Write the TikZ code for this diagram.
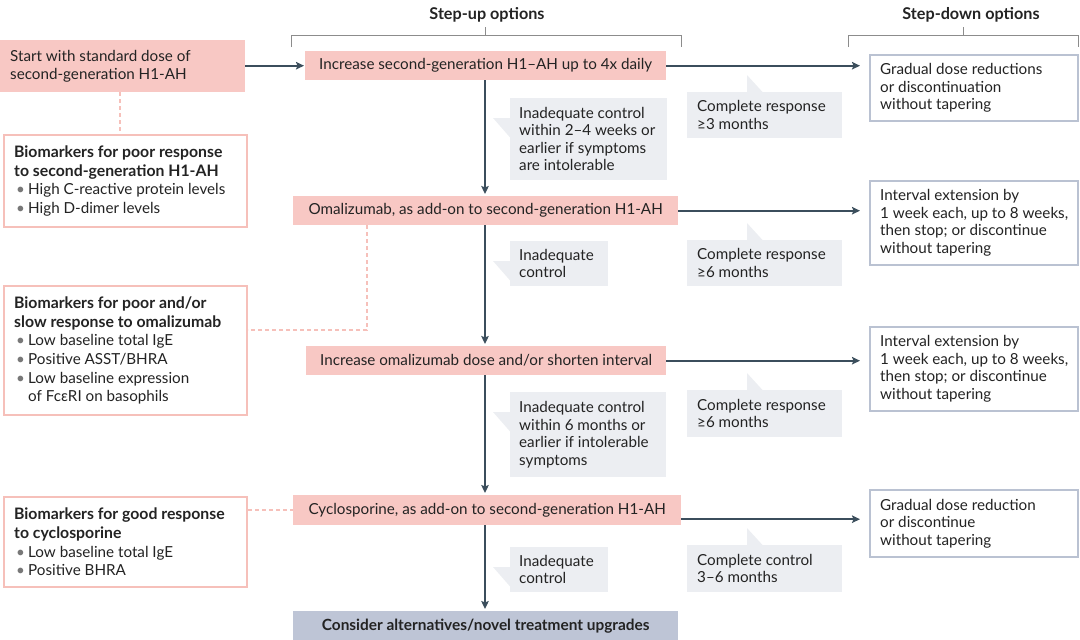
\documentclass[tikz,border=0pt]{standalone}
\usepackage{fontspec}
\setmainfont{Lato}
\usetikzlibrary{calc,arrows.meta}
\definecolor{pinkfill}{RGB}{248,200,196}
\definecolor{pinkline}{RGB}{246,192,186}
\definecolor{arrowcol}{RGB}{59,78,92}
\definecolor{callfill}{RGB}{236,238,242}
\definecolor{sdline}{RGB}{186,194,210}
\definecolor{consfill}{RGB}{190,197,214}
\definecolor{txt}{RGB}{35,35,35}
\definecolor{brack}{RGB}{140,140,140}
\definecolor{bulgray}{RGB}{120,120,120}
\newcommand{\bul}[1]{\hspace*{2pt}\makebox[12pt][l]{\textcolor{bulgray}{\textbullet}}#1}
\newcommand{\bh}[1]{{\fontsize{15.8}{18.7}\selectfont\bfseries #1}}
\tikzset{
  base/.style={font=\fontsize{15.2}{17.5}\selectfont, text=txt, inner sep=0pt},
  pinkbox/.style={base, fill=pinkfill, align=center, anchor=north west},
  lbl/.style={base, anchor=west, align=left},
  biolbl/.style={lbl, font=\fontsize{15.2}{18.7}\selectfont},
  bg/.style={anchor=north west, inner sep=0pt},
  biobox/.style={bg, draw=pinkline, line width=2pt, fill=white},
  sdbox/.style={bg, draw=sdline, line width=2pt, fill=white},
  callout/.style={bg, fill=callfill},
  consbox/.style={pinkbox, fill=consfill, font=\fontsize{15.4}{17.5}\selectfont\bfseries},
  arr/.style={draw=arrowcol, line width=2pt, -{Stealth[length=8pt,width=7.5pt,inset=1.5pt]}},
  dashlink/.style={draw=pinkline, line width=2pt, dash pattern=on 4pt off 3pt},
  brk/.style={draw=brack, line width=1pt},
  head/.style={font=\fontsize{16.2}{18}\selectfont\bfseries, text=txt, inner sep=0pt}
}
\begin{document}
\begin{tikzpicture}[x=1pt,y=-1pt]
\useasboundingbox (0,0) rectangle (1080,640);

% headers and brackets
\node[head] (hup) at (487,15) {Step-up options};
\node[head] (hdown) at (971,15) {Step-down options};
\draw[brk] (291,47) -- (291,35) -- (681,35) -- (681,47);
\draw[brk] (485,35) -- (485,27);
\draw[brk] (848,47) -- (848,35) -- (1078,35) -- (1078,47);
\draw[brk] (963,35) -- (963,27);

% pink step-up boxes
\node[bg, fill=pinkfill, minimum width=245pt, minimum height=52pt] (start) at (0,40) {};
\node[lbl] (startt) at ($(start.west)+(10,0)$) {Start with standard dose of\\second-generation H1-AH};
\node[pinkbox, minimum width=361pt, minimum height=29pt] (b1) at (305,51) {Increase second-generation H1–AH up to 4x daily};
\node[pinkbox, minimum width=385pt, minimum height=29pt] (b2) at (293,196) {Omalizumab, as add-on to second-generation H1-AH};
\node[pinkbox, minimum width=360pt, minimum height=29pt] (b3) at (306,346) {Increase omalizumab dose and/or shorten interval};
\node[pinkbox, minimum width=388pt, minimum height=30pt] (b4) at (293,495) {Cyclosporine, as add-on to second-generation H1-AH};
\node[consbox, minimum width=385pt, minimum height=29pt] (cons) at (293,611) {Consider alternatives/novel treatment upgrades};

% biomarker boxes
\node[biobox, minimum width=243pt, minimum height=92pt] (bio1) at (3,134) {};
\node[biolbl] (bio1t) at ($(bio1.west)+(11,0)$) {\bh{Biomarkers for poor response}\\\bh{to second-generation H1-AH}\\\bul{High C-reactive protein levels}\\\bul{High D-dimer levels}};
\node[biobox, minimum width=243pt, minimum height=129pt] (bio2) at (3,285) {};
\node[biolbl] (bio2t) at ($(bio2.west)+(11,0)$) {\bh{Biomarkers for poor and/or}\\\bh{slow response to omalizumab}\\\bul{Low baseline total IgE}\\\bul{Positive ASST/BHRA}\\\bul{Low baseline expression}\\\hspace*{14pt}of FcεRI on basophils};
\node[biobox, minimum width=243pt, minimum height=90pt] (bio3) at (3,496) {};
\node[biolbl] (bio3t) at ($(bio3.west)+(11,0)$) {\bh{Biomarkers for good response}\\\bh{to cyclosporine}\\\bul{Low baseline total IgE}\\\bul{Positive BHRA}};

% step-down boxes
\node[sdbox, minimum width=208pt, minimum height=66pt] (sd1) at (869,54) {};
\node[lbl] (sd1t) at ($(sd1.west)+(11,0)$) {Gradual dose reductions\\or discontinuation\\without tapering};
\node[sdbox, minimum width=208pt, minimum height=84pt] (sd2) at (869,180) {};
\node[lbl] (sd2t) at ($(sd2.west)+(11,0)$) {Interval extension by\\1 week each, up to 8 weeks,\\then stop; or discontinue\\without tapering};
\node[sdbox, minimum width=208pt, minimum height=84pt] (sd3) at (869,326) {};
\node[lbl] (sd3t) at ($(sd3.west)+(11,0)$) {Interval extension by\\1 week each, up to 8 weeks,\\then stop; or discontinue\\without tapering};
\node[sdbox, minimum width=208pt, minimum height=67pt] (sd4) at (869,489) {};
\node[lbl] (sd4t) at ($(sd4.west)+(11,0)$) {Gradual dose reduction\\or discontinue\\without tapering};

% callouts (left tails)
\node[callout, minimum width=157pt, minimum height=82pt] (c1) at (510,98) {};
\node[callout, minimum width=98pt, minimum height=45pt] (c2) at (510,241) {};
\node[callout, minimum width=156pt, minimum height=85pt] (c3) at (510,392) {};
\node[callout, minimum width=98pt, minimum height=45pt] (c4) at (510,547) {};
\foreach \c in {c1,c2,c3,c4}{
  \fill[callfill] ($(\c.north west)+(0.5,20)$) -- ++(-17.5,0) -- ($(\c.north west)+(0.5,40)$) -- cycle;
}
\node[lbl] (c1t) at ($(c1.west)+(9,0)$) {Inadequate control\\within 2–4 weeks or\\earlier if symptoms\\are intolerable};
\node[lbl] (c2t) at ($(c2.west)+(9,0)$) {Inadequate\\control};
\node[lbl] (c3t) at ($(c3.west)+(9,0)$) {Inadequate control\\within 6 months or\\earlier if intolerable\\symptoms};
\node[lbl] (c4t) at ($(c4.west)+(9,0)$) {Inadequate\\control};

% callouts (top tails)
\node[callout, minimum width=155pt, minimum height=46pt] (r1) at (687,92) {};
\node[callout, minimum width=155pt, minimum height=46pt] (r2) at (687,240) {};
\node[callout, minimum width=155pt, minimum height=47pt] (r3) at (687,390) {};
\node[callout, minimum width=155pt, minimum height=47pt] (r4) at (687,545) {};
\foreach \c in {r1,r2,r3,r4}{
  \fill[callfill] ($(\c.north west)+(60,0.5)$) -- ++(0,-17.5) -- ($(\c.north west)+(76,0.5)$) -- cycle;
}
\node[lbl] (r1t) at ($(r1.west)+(10,0)$) {Complete response\\≥3 months};
\node[lbl] (r2t) at ($(r2.west)+(10,0)$) {Complete response\\≥6 months};
\node[lbl] (r3t) at ($(r3.west)+(10,0)$) {Complete response\\≥6 months};
\node[lbl] (r4t) at ($(r4.west)+(10,0)$) {Complete control\\3–6 months};

% dashed biomarker links
\draw[dashlink] (start.south -| 120,0) -- (bio1.north -| 120,0);
\draw[dashlink] ($(b2.south west)+(74,0)$) -- ($(b2.south west)+(74,105)$) -- (bio2.east |- {$(b2.south west)+(74,105)$});
\draw[dashlink] (bio3.east |- b4.west) -- (b4.west);

% main arrows
\draw[arr, shorten >=1pt] (start.east |- b1.west) -- (b1.west);
\draw[arr, shorten >=2pt] (b1.south -| 485,0) -- (b2.north -| 485,0);
\draw[arr, shorten >=2pt] (b2.south -| 485,0) -- (b3.north -| 485,0);
\draw[arr, shorten >=2pt] (b3.south -| 485,0) -- (b4.north -| 485,0);
\draw[arr, shorten >=2pt] (b4.south -| 485,0) -- (cons.north -| 485,0);

% step-down arrows
\draw[arr, shorten >=9pt] (b1.east) -- (sd1.west |- b1.east);
\draw[arr, shorten >=9pt] (b2.east) -- (sd2.west |- b2.east);
\draw[arr, shorten >=9pt] (b3.east) -- (sd3.west |- b3.east);
\draw[arr, shorten >=9pt] ($(b4.east)+(0,9)$) -- (sd4.west |- {$(b4.east)+(0,9)$});
\end{tikzpicture}
\end{document}
